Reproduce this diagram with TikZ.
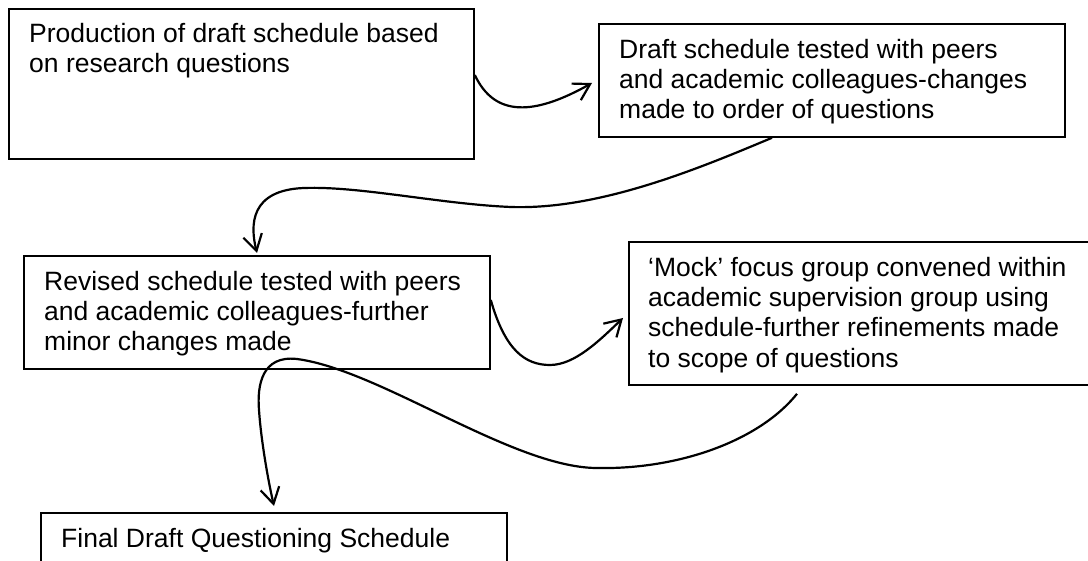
\documentclass[tikz,border=0pt]{standalone}
\usepackage{fontspec}
\setmainfont{Liberation Sans}
\usetikzlibrary{arrows.meta}
% strut that fixes the height of the first text line
\newcommand\firstline{\rule{0pt}{21.2pt}}
\begin{document}
\begin{tikzpicture}[x=1pt,y=-1pt,
  box/.style={draw, line width=1.8pt, rectangle, anchor=north west, inner sep=0pt},
  txt/.style={anchor=north west, inner sep=0pt, align=left,
              font=\fontsize{26.5}{30.3}\selectfont},
  flow/.style={line width=2.2pt,
               -{Straight Barb[length=16pt, width=19pt, line width=2.2pt]}}]
\clip (0,0) rectangle (1088,561);
\fill[white] (0,0) rectangle (1088,561);

% boxes
\node[box, minimum width=465pt, minimum height=150pt] (b1) at (8,8) {};
\node[box, minimum width=466pt, minimum height=113pt] (b2) at (598,23) {};
\node[box, minimum width=466pt, minimum height=113pt] (b3) at (23,255) {};
\node[box, minimum width=490pt, minimum height=143pt] (b4) at (628,241) {};
\node[box, minimum width=466pt, minimum height=80pt]  (b5) at (40,512) {};

% box texts
\node[txt] (t1) at ([shift={(21,13)}]b1.north west)
  {\firstline Production of draft schedule based\\on research questions};
\node[txt] (t2) at ([shift={(21,14)}]b2.north west)
  {\firstline Draft schedule tested with peers\\and academic colleagues-changes\\made to order of questions};
\node[txt] (t3) at ([shift={(21,14)}]b3.north west)
  {\firstline Revised schedule tested with peers\\and academic colleagues-further\\minor changes made};
\node[txt] (t4) at ([shift={(20,14)}]b4.north west)
  {\firstline ‘Mock’ focus group convened within\\academic supervision group using\\schedule-further refinements made\\to scope of questions};
\node[txt] (t5) at ([shift={(21,14)}]b5.north west)
  {\firstline Final Draft Questioning Schedule};

% curved connectors
\draw[flow] ([shift={(0,67)}]b1.north east)
  .. controls (495,118) and (535,115) .. ([shift={(-6,60)}]b2.north west);

\draw[flow] ([shift={(174,0)}]b2.south west)
  .. controls (700,168) and (600,210) .. (511,207)
  .. controls (440,204) and (360,186) .. (304,188)
  .. controls (250,190) and (250,225) .. ([shift={(234,-2)}]b3.north west);

\draw[flow] ([shift={(0,45)}]b3.north east)
  .. controls (505,350) and (525,365) .. (550,365)
  .. controls (575,365) and (600,340) .. ([shift={(-5,77)}]b4.north west);

\draw[flow] ([shift={(169,8)}]b4.south west)
  .. controls (760,440) and (680,470) .. (595,468)
  .. controls (510,466) and (380,370) .. (297,359)
  .. controls (262,355) and (257,385) .. (259,410)
  .. controls (261,440) and (268,480) .. ([shift={(234,-6)}]b5.north west);
\end{tikzpicture}
\end{document}
